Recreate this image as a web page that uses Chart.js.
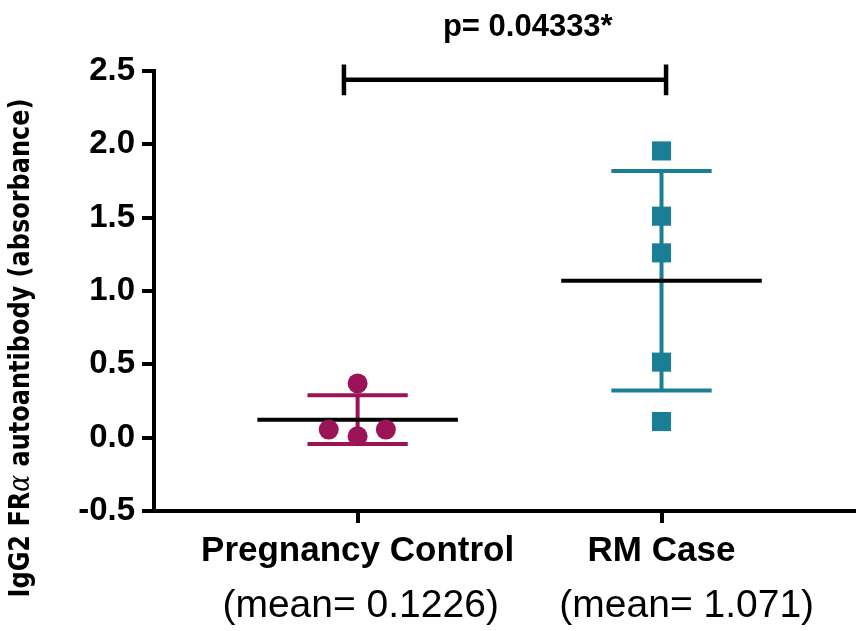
<!DOCTYPE html>
<html>
<head>
<meta charset="utf-8">
<title>IgG2 FRα autoantibody</title>
<script src="https://cdn.jsdelivr.net/npm/chart.js@4.4.1/dist/chart.umd.min.js"></script>
<style>
  html, body { margin: 0; padding: 0; background: #fff; }
  #chart { display: block; }
</style>
</head>
<body>
<canvas id="chart" width="856" height="631"></canvas>
<script>
// Chart data
const groups = ['Pregnancy Control', 'RM Case'];
const meanLabels = ['(mean= 0.1226)', '(mean= 1.071)'];
const controlValues = [0.37, 0.055, 0.01, 0.055];
const controlJitter = [0, -0.095, 0, 0.093];
const rmValues = [1.955, 1.51, 1.26, 0.515, 0.11];
const rmJitter = [0, 0, 0, 0, 0];
const yTicks = [-0.5, 0, 0.5, 1.0, 1.5, 2.0, 2.5];
const pValueText = 'p= 0.04333*';
const bracketEnds = [0.955, 2.015];
const bracketLevel = 2.44;

const controlColor = '#9b1457';
const rmColor = '#1b7e97';

function mean(arr) {
    return arr.reduce((a, b) => a + b, 0) / arr.length;
}

function sd(arr) {
    const m = mean(arr);
    const ss = arr.reduce((a, b) => a + (b - m) * (b - m), 0);
    return Math.sqrt(ss / (arr.length - 1));
}

function points(values, jitter, pos) {
    return values.map((v, i) => ({ x: pos + jitter[i], y: v }));
}

// vertical bar + two caps, separated by gaps
function errorBar(values, pos, capHalf) {
    const m = mean(values), s = sd(values);
    const gap = { x: null, y: null };
    return [
        { x: pos, y: m - s }, { x: pos, y: m + s }, gap,
        { x: pos - capHalf, y: m + s }, { x: pos + capHalf, y: m + s }, gap,
        { x: pos - capHalf, y: m - s }, { x: pos + capHalf, y: m - s }
    ];
}

function meanLine(values, pos, half) {
    const m = mean(values);
    return [{ x: pos - half, y: m }, { x: pos + half, y: m }];
}

function bracket(ends, level, capHalf) {
    const gap = { x: null, y: null };
    return [
        { x: ends[0], y: level + capHalf }, { x: ends[0], y: level - capHalf }, gap,
        { x: ends[0], y: level }, { x: ends[1], y: level }, gap,
        { x: ends[1], y: level + capHalf }, { x: ends[1], y: level - capHalf }
    ];
}

const lineDefaults = {
    showLine: true,
    pointRadius: 0,
    spanGaps: false,
    fill: false
};

// text that Chart.js cannot place where the figure has it
const textPlugin = {
    id: 'figureText',
    afterDraw(chart) {
        const ctx = chart.ctx;
        const x = chart.scales.x;
        ctx.save();
        ctx.fillStyle = '#000';

        // p-value above the bracket
        ctx.font = 'bold 31px "Liberation Sans", Arial, sans-serif';
        ctx.textAlign = 'center';
        ctx.textBaseline = 'middle';
        ctx.fillText(pValueText, x.getPixelForValue(1.56), 27);

        // rotated y title with italic alpha
        const parts = [
            { t: 'IgG2 FR', f: 'bold 24px "DejaVu Sans", sans-serif' },
            { t: 'α', f: 'italic 25px "DejaVu Serif", serif' },
            { t: ' autoantibody (absorbance)', f: 'bold 24px "DejaVu Sans", sans-serif' }
        ];
        let total = 0;
        parts.forEach(p => { ctx.font = p.f; p.w = ctx.measureText(p.t).width; total += p.w; });
        ctx.translate(29, 348);
        ctx.rotate(-Math.PI / 2);
        ctx.scale(1, 1.2);
        ctx.textAlign = 'left';
        ctx.textBaseline = 'alphabetic';
        let cx = -total / 2;
        parts.forEach(p => {
            ctx.font = p.f;
            ctx.fillText(p.t, cx, 0);
            cx += p.w;
        });
        ctx.restore();
    }
};

new Chart(document.getElementById('chart'), {
    type: 'scatter',
    data: {
        datasets: [{
            label: groups[0],
            data: points(controlValues, controlJitter, 1),
            pointStyle: 'circle',
            pointRadius: 10,
            backgroundColor: controlColor,
            borderWidth: 0
        }, {
            label: groups[1],
            data: points(rmValues, rmJitter, 2),
            pointStyle: 'rect',
            pointRadius: 13.5,
            backgroundColor: rmColor,
            borderWidth: 0
        }, {
            ...lineDefaults,
            data: meanLine(controlValues, 1, 0.33),
            borderColor: '#000',
            borderWidth: 4
        }, {
            ...lineDefaults,
            data: meanLine(rmValues, 2, 0.33),
            borderColor: '#000',
            borderWidth: 4
        }, {
            ...lineDefaults,
            data: errorBar(controlValues, 1, 0.165),
            borderColor: controlColor,
            borderWidth: 4
        }, {
            ...lineDefaults,
            data: errorBar(rmValues, 2, 0.165),
            borderColor: rmColor,
            borderWidth: 4
        }, {
            ...lineDefaults,
            data: bracket(bracketEnds, bracketLevel, 0.105),
            borderColor: '#000',
            borderWidth: 4.5,
            clip: false
        }]
    },
    options: {
        responsive: false,
        animation: false,
        events: [],
        layout: {
            autoPadding: false,
            padding: { top: 71, left: 0, right: 0, bottom: 0 }
        },
        plugins: {
            legend: { display: false },
            tooltip: { enabled: false },
            title: { display: false }
        },
        scales: {
            y: {
                type: 'linear',
                min: -0.5,
                max: 2.5,
                afterBuildTicks: (scale) => { scale.ticks = yTicks.map(v => ({ value: v })); },
                afterFit: (scale) => { scale.width = 154; },
                border: { display: true, color: '#000', width: 4 },
                grid: {
                    display: true,
                    drawOnChartArea: false,
                    drawTicks: true,
                    tickLength: 12,
                    lineWidth: 4,
                    tickWidth: 4,
                    tickColor: '#000',
                    color: '#000'
                },
                ticks: {
                    color: '#000',
                    padding: 7,
                    font: { family: '"Liberation Sans", Arial, sans-serif', size: 33, weight: 'bold' },
                    callback: (v) => v.toFixed(1)
                }
            },
            x: {
                type: 'linear',
                position: 'bottom',
                min: 0.33,
                max: 2.64,
                afterBuildTicks: (scale) => { scale.ticks = groups.map((g, i) => ({ value: i + 1 })); },
                afterFit: (scale) => { scale.height = 72; },
                border: { display: true, color: '#000', width: 4 },
                grid: {
                    display: true,
                    drawOnChartArea: false,
                    drawTicks: true,
                    tickLength: 12,
                    lineWidth: 4,
                    tickWidth: 4,
                    tickColor: '#000',
                    color: '#000'
                },
                ticks: {
                    color: '#000',
                    padding: 7,
                    autoSkip: false,
                    maxRotation: 0,
                    minRotation: 0,
                    font: { family: '"Liberation Sans", Arial, sans-serif', size: 35, weight: 'bold' },
                    callback: (v, i) => groups[i]
                }
            },
            x2: {
                type: 'linear',
                position: 'bottom',
                min: 0.33,
                max: 2.64,
                // mean labels sit slightly right of each column in the figure
                afterBuildTicks: (scale) => { scale.ticks = [{ value: 1.01 }, { value: 2.083 }]; },
                afterFit: (scale) => { scale.height = 48; },
                border: { display: false },
                grid: { display: false, drawTicks: false },
                ticks: {
                    color: '#000',
                    padding: 0,
                    autoSkip: false,
                    maxRotation: 0,
                    minRotation: 0,
                    font: { family: '"Liberation Sans", Arial, sans-serif', size: 39, weight: 'normal' },
                    callback: (v, i) => meanLabels[i]
                }
            }
        }
    },
    plugins: [textPlugin]
});
</script>
</body>
</html>
